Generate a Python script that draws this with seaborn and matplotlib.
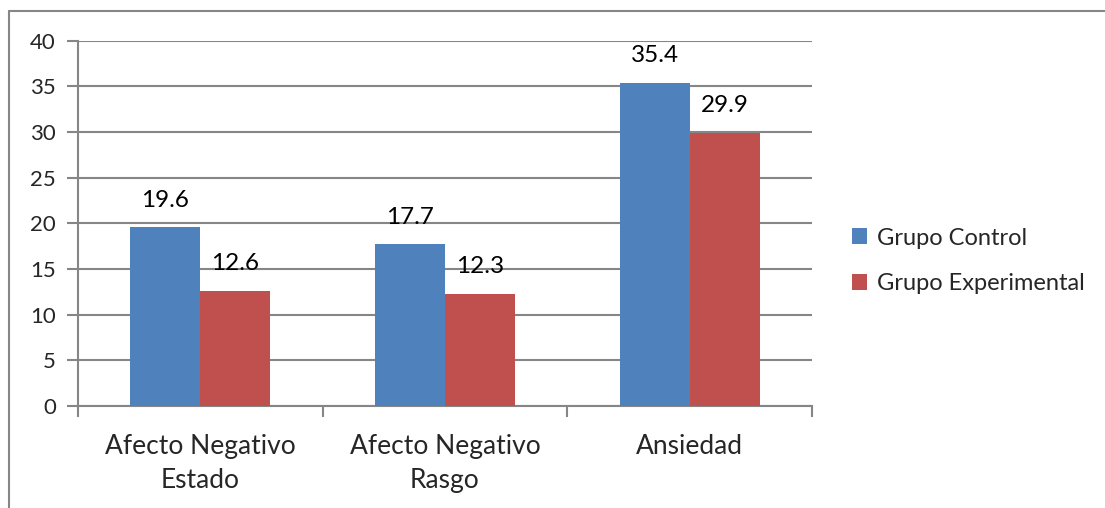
import matplotlib
matplotlib.use("Agg")
import matplotlib.pyplot as plt
from matplotlib.lines import Line2D
from matplotlib.patches import Patch
import seaborn as sns
import pandas as pd

categories = ["Afecto Negativo\nEstado", "Afecto Negativo\nRasgo", "Ansiedad"]
series_names = ["Grupo Control", "Grupo Experimental"]
control_values = [19.6, 17.7, 35.4]
experimental_values = [12.6, 12.3, 29.9]
y_ticks = [0, 5, 10, 15, 20, 25, 30, 35, 40]
colors = ["#4F81BD", "#C0504D"]

df = pd.DataFrame({
    "categoria": categories * 2,
    "grupo": [series_names[0]] * 3 + [series_names[1]] * 3,
    "valor": control_values + experimental_values,
})

sns.set_style("white")
plt.rcParams["font.family"] = ["Lato", "DejaVu Sans"]
FS_TICK = 16
FS_VAL = 17.5
FS_CAT = 19
FS_LEG = 17
grid_c = "#868686"

W, H = 1105, 508
fig = plt.figure(figsize=(W / 100, H / 100), dpi=100)
ax = fig.add_axes([78 / W, (H - 406) / H, (812 - 78) / W, (406 - 40.7) / H])

sns.barplot(data=df, x="categoria", y="valor", hue="grupo", order=categories,
            hue_order=series_names, palette=colors, width=0.572, gap=0,
            saturation=1, edgecolor="none", linewidth=0, legend=False, ax=ax,
            zorder=3)

# value labels above each bar
for cont in ax.containers:
    for bar in cont:
        h = bar.get_height()
        ax.annotate(f"{h:.1f}", (bar.get_x() + bar.get_width() / 2, h),
                    xytext=(0, 27), textcoords="offset pixels",
                    ha="center", va="center", fontsize=FS_VAL, color="black")

ax.set_ylim(0, 40)
ax.set_xlim(-0.5, len(categories) - 0.5)
ax.set_yticks(y_ticks)
ax.set_yticklabels([str(v) for v in y_ticks], fontsize=FS_TICK)
ax.yaxis.grid(True, color=grid_c, linewidth=1.5, zorder=0)
ax.set_axisbelow(True)

# category boundaries as major ticks, names on minor ticks
ax.set_xticks([i - 0.5 for i in range(len(categories) + 1)])
ax.set_xticklabels([])
ax.set_xticks(range(len(categories)), minor=True)
ax.set_xticklabels(categories, minor=True, fontsize=FS_CAT, linespacing=1.47)
ax.tick_params(axis="x", which="major", length=8, width=1.5, color=grid_c,
               direction="out", bottom=True)
ax.tick_params(axis="x", which="minor", length=0, pad=20)
ax.tick_params(axis="y", length=8, width=1.5, color=grid_c, direction="out",
               left=True, pad=8)
ax.set_xlabel("")
ax.set_ylabel("")

for side in ["top", "right"]:
    ax.spines[side].set_visible(False)
for side in ["left", "bottom"]:
    ax.spines[side].set_color(grid_c)
    ax.spines[side].set_linewidth(1.5)

handles = [Patch(facecolor=c, edgecolor="none", label=n)
           for c, n in zip(colors, series_names)]
fig.legend(handles=handles, loc="center left",
           bbox_to_anchor=(852 / W, (H - 261) / H), frameon=False,
           fontsize=FS_LEG, handlelength=0.65, handleheight=0.65,
           handletextpad=0.4, labelspacing=1.05, borderaxespad=0,
           borderpad=0)

# outer frame (top and left edges)
fig.add_artist(Line2D([9 / W, 9 / W], [0, (H - 11) / H], color=grid_c,
                      linewidth=1.5, transform=fig.transFigure))
fig.add_artist(Line2D([9 / W, 1], [(H - 11) / H, (H - 11) / H], color=grid_c,
                      linewidth=1.5, transform=fig.transFigure))

fig.savefig("out.png", dpi=100)
